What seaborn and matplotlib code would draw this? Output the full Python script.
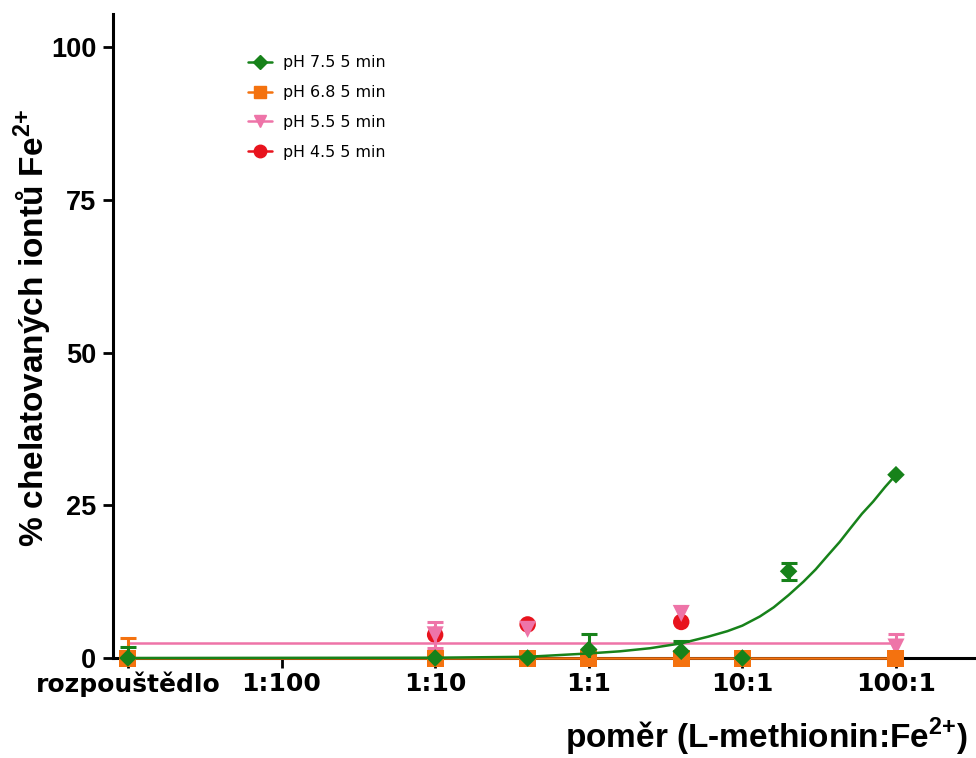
import numpy as np
import matplotlib
matplotlib.use('Agg')
import matplotlib.pyplot as plt
from matplotlib.lines import Line2D
import seaborn as sns

# Style
sns.set_style('ticks')
plt.rcParams['font.family'] = ['Liberation Sans', 'DejaVu Sans']
plt.rcParams['mathtext.fontset'] = 'custom'
plt.rcParams['mathtext.rm'] = 'Liberation Sans'
plt.rcParams['mathtext.bf'] = 'Liberation Sans:bold'
for key in ['text.color', 'axes.labelcolor', 'xtick.color', 'ytick.color']:
    plt.rcParams[key] = 'black'

# ratio L-methionin : Fe2+ (solvent drawn at 0.001)
tick_pos = [0.001, 0.01, 0.1, 1, 10, 100]
tick_labels = ['rozpouštědlo', '1:100', '1:10', '1:1', '10:1', '100:1']

# pH 7.5
x_75 = [0.001, 0.1, 0.4, 1, 4, 10, 20, 100]
y_75 = [0.0, 0.0, 0.0, 1.4, 1.1, 0.0, 14.2, 30.0]
e_75 = [1.8, 0.0, 0.0, 2.5, 1.7, 0.0, 1.4, 0.0]
# fitted curve pH 7.5
fit_x_75 = [0.001, 0.1, 0.4, 1, 1.6, 2.5, 4, 6, 8, 10, 13, 16, 20, 25, 30, 36,
            43, 50, 60, 71, 85, 100]
fit_y_75 = [0.0, 0.05, 0.2, 0.75, 1.1, 1.6, 2.4, 3.5, 4.4, 5.3, 6.8, 8.3, 10.3,
            12.5, 14.5, 16.8, 19.0, 21.1, 23.6, 25.6, 28.0, 30.0]

# pH 6.8
x_68 = [0.001, 0.1, 0.4, 1, 4, 10, 100]
y_68 = [0.0, 0.0, 0.0, 0.0, 0.0, 0.0, 0.0]
e_68 = [3.2, 0.0, 0.0, 0.0, 0.0, 0.0, 0.0]
fit_x_68 = [0.001, 100]
fit_y_68 = [0.0, 0.0]

# pH 5.5
x_55 = [0.1, 0.4, 4, 100]
y_55 = [3.8, 4.7, 7.3, 1.8]
e_55 = [2.1, 0.0, 0.0, 2.1]
fit_x_55 = [0.001, 100]
fit_y_55 = [2.5, 2.5]

# pH 4.5
x_45 = [0.1, 0.4, 4]
y_45 = [3.8, 5.5, 5.9]
e_45 = [0.0, 0.0, 0.0]

labels = ['pH 7.5 5 min', 'pH 6.8 5 min', 'pH 5.5 5 min', 'pH 4.5 5 min']
colors = ['#17821a', '#f4720f', '#ee74a8', '#e8131d']
markers = ['D', 's', 'v', 'o']
sizes = [80, 150, 150, 140]

fig, ax = plt.subplots(figsize=(9.76, 7.58), dpi=100)
fig.subplots_adjust(left=0.1158, right=0.999, bottom=0.1319, top=0.9815)

series = [
    (x_75, y_75, e_75, fit_x_75, fit_y_75),
    (x_68, y_68, e_68, fit_x_68, fit_y_68),
    (x_55, y_55, e_55, fit_x_55, fit_y_55),
    (x_45, y_45, e_45, None, None),
]
zorders = [8, 7, 6, 5]

for (xs, ys, es, fx, fy), c, m, s, z in zip(series, colors, markers, sizes, zorders):
    if fx is not None:
        sns.lineplot(x=fx, y=fy, color=c, lw=1.8, ax=ax, clip_on=False,
                     zorder=z, sort=True, estimator=None)
    xs_a, ys_a, es_a = np.array(xs), np.array(ys), np.array(es)
    keep = es_a > 0
    if keep.any():
        ax.errorbar(xs_a[keep], ys_a[keep], yerr=es_a[keep], fmt='none',
                    ecolor=c, elinewidth=2.2, capsize=6, capthick=2.2, zorder=z)
    sns.scatterplot(x=xs, y=ys, marker=m, s=s, color=c, edgecolor='none',
                    ax=ax, clip_on=False, zorder=z + 0.5)

ax.set_xscale('log')
ax.set_xlim(0.0008, 327)
ax.set_ylim(0, 105.4)
ax.set_xticks(tick_pos)
ax.set_xticklabels(tick_labels)
ax.minorticks_off()
ax.set_yticks([0, 25, 50, 75, 100])

for lab in ax.get_xticklabels():
    lab.set_fontweight('bold')
    lab.set_fontsize(18)
    lab.set_family('DejaVu Sans')
for lab in ax.get_yticklabels():
    lab.set_fontweight('bold')
    lab.set_fontsize(19.5)
ax.tick_params(axis='both', length=7, width=2, direction='out', color='black')
ax.tick_params(axis='x', pad=3)
ax.tick_params(axis='y', pad=5)

for side in ['top', 'right']:
    ax.spines[side].set_visible(False)
for side in ['left', 'bottom']:
    ax.spines[side].set_linewidth(2.2)
    ax.spines[side].set_color('black')

ax.set_ylabel('% chelatovaných iontů Fe$^{\\mathbf{2{+}}}$', fontsize=24,
              fontweight='bold', va='center')
ax.yaxis.set_label_coords(-0.0935, 0.512)
ax.set_xlabel('poměr (L-methionin:Fe$^{\\mathbf{2{+}}}$)', fontsize=24,
              fontweight='bold', ha='right', va='center')
ax.xaxis.set_label_coords(0.992, -0.122)

handles = [Line2D([0], [0], color=c, marker=m, markersize=ms, lw=1.8)
           for c, m, ms in zip(colors, markers, [7, 9, 9, 9])]
leg = ax.legend(handles, labels, loc='upper left', bbox_to_anchor=(0.157, 0.936),
                frameon=False, handlelength=1.5, handletextpad=0.7,
                labelspacing=0.94, borderpad=0, borderaxespad=0,
                prop={'family': 'DejaVu Sans', 'size': 11.4})

sns.despine(ax=ax)
fig.savefig('out.png', dpi=100)
